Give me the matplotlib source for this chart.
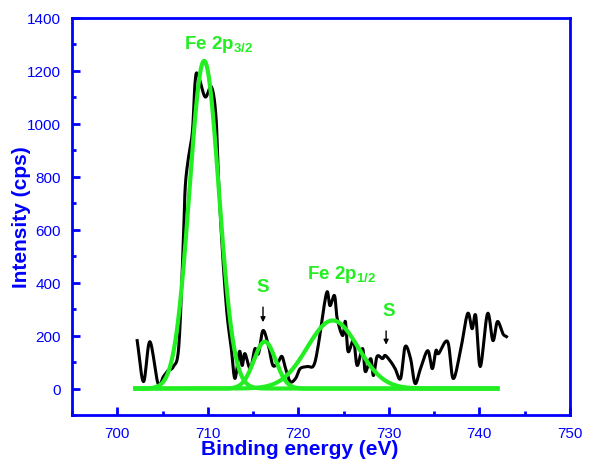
import numpy as np
import matplotlib
matplotlib.use("Agg")
import matplotlib.pyplot as plt

plt.rcParams['font.family'] = ['Liberation Sans', 'DejaVu Sans']
plt.rcParams['mathtext.fontset'] = 'custom'
plt.rcParams['mathtext.rm'] = 'Liberation Sans'
plt.rcParams['mathtext.bf'] = 'Liberation Sans:bold'

# measured spectrum (binding energy in eV, intensity in cps)
energy = [702.2, 702.9, 703.6, 704.5, 705.1, 705.6, 706.2, 706.8, 707.3, 707.5, 707.8,
          708.3, 708.6, 708.9, 709.7, 710.4, 710.9, 711.2, 711.6, 712.1, 712.6,
          713.0, 713.5, 713.8, 714.1, 714.7, 715.2, 715.6, 716.1, 716.7, 717.2, 717.8, 718.2,
          718.6, 719.1, 719.7, 720.2, 721.0, 721.7, 722.2, 722.8, 723.2, 723.5, 724.0,
          724.3, 724.9, 725.2, 725.5, 726.1, 726.5, 727.1, 727.4, 728.0, 728.3, 728.7,
          729.3, 729.6, 730.2, 730.7, 731.3, 731.8, 732.4, 732.9, 733.5, 734.3, 734.8,
          735.2, 735.5, 736.5, 737.1, 737.9, 738.7, 739.2, 739.6, 740.1, 740.9, 741.5,
          742.0, 742.6, 743.0]
intensity = [181, 26, 177, 19, 45, 68, 83, 160, 555, 755, 857,
             970, 1158, 1188, 1102, 1140, 1030, 780, 528, 290, 150,
             38, 140, 87, 132, 75, 150, 132, 219, 162, 87, 102, 121,
             75, 26, 38, 75, 83, 87, 162, 302, 366, 313, 351,
             264, 200, 253, 140, 181, 87, 151, 64, 113, 49, 121,
             113, 125, 102, 75, 38, 158, 113, 19, 75, 143, 75,
             143, 132, 177, 38, 140, 283, 226, 275, 83, 283, 181,
             253, 207, 196]

# fitted gaussian components: centre (eV), height (cps), sigma (eV)
fit_centers = [709.6, 716.3, 723.8]
fit_heights = [1238, 177, 257]
fit_sigmas = [1.62, 1.2, 2.8]

blue = '#0000FF'
green = '#22EE22'


def smooth(x, y, n=12):
    # Catmull-Rom spline through the points, only for drawing a smooth trace
    x = np.asarray(x, float)
    y = np.asarray(y, float)
    px = np.concatenate([[2 * x[0] - x[1]], x, [2 * x[-1] - x[-2]]])
    py = np.concatenate([[2 * y[0] - y[1]], y, [2 * y[-1] - y[-2]]])
    t = np.linspace(0, 1, n, endpoint=False)
    xs, ys = [], []
    for i in range(1, len(px) - 2):
        for arr, out in ((px, xs), (py, ys)):
            p0, p1, p2, p3 = arr[i - 1], arr[i], arr[i + 1], arr[i + 2]
            out.extend(0.5 * (2 * p1 + (-p0 + p2) * t + (2 * p0 - 5 * p1 + 4 * p2 - p3) * t ** 2
                              + (-p0 + 3 * p1 - 3 * p2 + p3) * t ** 3))
    xs.append(x[-1])
    ys.append(y[-1])
    return xs, ys


fig = plt.figure(figsize=(5.93, 4.6), dpi=100)
ax = fig.add_axes([0.1214, 0.0957, 0.8396, 0.863])

sx, sy = smooth(energy, intensity)
ax.plot(sx, sy, color='black', lw=2.2, zorder=2)

e_fit = np.linspace(702.0, 742.0, 800)
for c, h, s in zip(fit_centers, fit_heights, fit_sigmas):
    ax.plot(e_fit, h * np.exp(-0.5 * ((e_fit - c) / s) ** 2), color=green, lw=3, zorder=3)

ax.set_xlim(695, 750)
ax.set_ylim(-100, 1400)
ax.set_xticks(np.arange(700, 751, 10))
ax.set_xticks(np.arange(695, 751, 5), minor=True)
ax.set_yticks(np.arange(0, 1401, 200))
ax.set_yticks(np.arange(-100, 1401, 100), minor=True)

for sp in ax.spines.values():
    sp.set_color(blue)
    sp.set_linewidth(2)
ax.tick_params(which='both', direction='in', colors=blue, width=2, labelsize=11,
               labelcolor=blue)
ax.tick_params(which='major', length=6)
ax.tick_params(which='minor', length=3)
ax.tick_params(axis='x', pad=8)
ax.tick_params(axis='y', pad=8)

ax.set_xlabel('Binding energy (eV)', color=blue, fontsize=15, fontweight='bold')
ax.set_ylabel('Intensity (cps)', color=blue, fontsize=15, fontweight='bold')
ax.xaxis.set_label_coords(0.458, -0.06)
ax.yaxis.set_label_coords(-0.082, 0.5)

tkw = dict(color=green, fontsize=13.5, fontweight='bold', ha='center', va='center')
ax.text(711.2, 1305, r'Fe 2p$_{\mathbf{3/2}}$', **tkw)
ax.text(716.1, 385, 'S', **tkw)
ax.text(724.8, 435, r'Fe 2p$_{\mathbf{1/2}}$', **tkw)
ax.text(730.0, 295, 'S', **tkw)

akw = dict(arrowstyle='-|>', color='black', lw=1, mutation_scale=7)
ax.annotate('', xy=(716.1, 240), xytext=(716.1, 318), arrowprops=akw)
ax.annotate('', xy=(729.7, 155), xytext=(729.7, 228), arrowprops=akw)

fig.savefig('out.png', dpi=100)
